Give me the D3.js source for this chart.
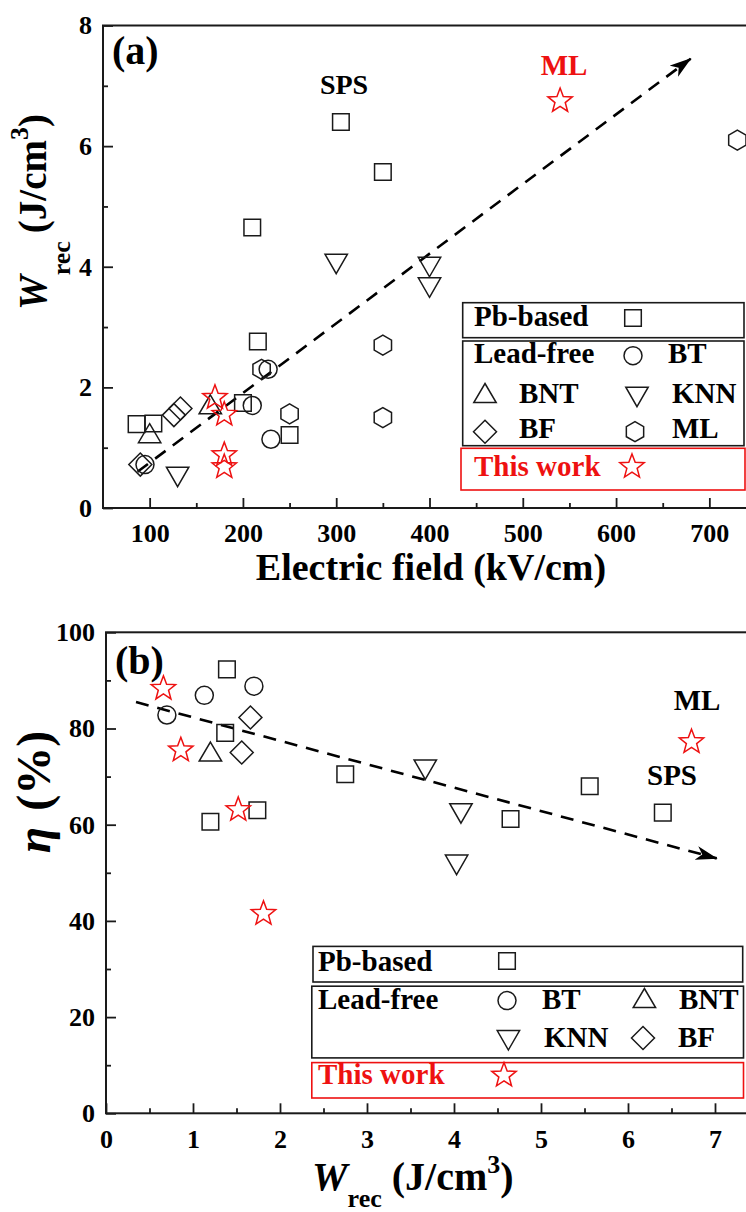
<!DOCTYPE html>
<html><head><meta charset="utf-8">
<script src="https://cdn.jsdelivr.net/npm/d3@7"></script>
<style>
html,body{margin:0;padding:0;background:#fff;overflow:hidden;}
svg{display:block;}
text{font-family:'Liberation Serif','Times New Roman',serif;font-weight:bold;}
</style></head>
<body>
<svg id="chart" width="746" height="1212"></svg>
<script>
// ---------- DATA: panel (a) Wrec vs Electric field ----------
const pbA  = [[86,1.39],[104,1.40],[200,1.74],[210,4.65],[216,2.76],[250,1.21],[305,6.40],[350,5.57]];
const btA  = [[95,0.72],[210,1.70],[227,2.30],[230,1.14]];
const bntA = [[100,1.24],[165,1.72]];
const knnA = [[130,0.52],[300,4.05],[400,4.00],[400,3.66]];
const bfA  = [[90,0.72],[126,1.54],[133,1.65]];
const mlA  = [[220,2.30],[250,1.56],[350,2.70],[350,1.50],[730,6.10]];
const starA = [[170,1.83],[180,1.55],[180,0.88],[180,0.68],[540,6.75]];
const trendA = [[87,0.60],[680,7.45]];
const xTicksA = [100,200,300,400,500,600,700];
const yTicksA = [0,2,4,6,8];

// ---------- DATA: panel (b) efficiency vs Wrec ----------
const pbB  = [[1.39,92.3],[1.37,79.1],[1.20,60.6],[1.74,63.0],[2.75,70.5],[4.65,61.2],[5.56,68.0],[6.40,62.5]];
const btB  = [[0.70,82.8],[1.13,86.9],[1.70,88.8]];
const bntB = [[1.20,75.2]];
const knnB = [[3.67,71.5],[4.08,62.4],[4.03,51.7]];
const bfB  = [[1.66,82.3],[1.56,75.0]];
const starB = [[0.66,88.3],[0.86,75.5],[1.52,63.1],[1.81,41.5],[6.73,77.2]];
const trendB = [[0.345,85.5],[7.02,53.0]];
const xTicksB = [0,1,2,3,4,5,6,7];
const yTicksB = [0,20,40,60,80,100];

const RED = "#ee1111", INK = "#1a1a1a";
const svg = d3.select("#chart");

// marker shapes
function shape(type){
  switch(type){
    case "square": return "M-8.3,-8.3h16.6v16.6h-16.6Z";
    case "circle": return "M9,0A9,9 0 1,1 -9,0A9,9 0 1,1 9,0Z";
    case "up": return "M0,-9.5L11.2,9.5L-11.2,9.5Z";
    case "down": return "M0,10L11.2,-9.5L-11.2,-9.5Z";
    case "diamond": return "M0,-11.5L11.5,0L0,11.5L-11.5,0Z";
    case "hex": {
      const p=[]; for(let k=0;k<6;k++){const a=(-90+60*k)*Math.PI/180; p.push([10*Math.cos(a),10*Math.sin(a)]);}
      return "M"+p.map(d=>d[0].toFixed(2)+","+d[1].toFixed(2)).join("L")+"Z";
    }
    case "star": {
      const p=[]; for(let k=0;k<10;k++){const r=k%2?5.4:12.8; const a=(-90+36*k)*Math.PI/180; p.push([r*Math.cos(a),r*Math.sin(a)]);}
      return "M"+p.map(d=>d[0].toFixed(2)+","+d[1].toFixed(2)).join("L")+"Z";
    }
  }
}
function drawSeries(g, data, type, x, y, color){
  g.selectAll(null).data(data).enter().append("path")
    .attr("d", shape(type))
    .attr("transform", d=>`translate(${x(d[0])},${y(d[1])})`)
    .attr("fill","none").attr("stroke", color||INK).attr("stroke-width",1.5);
}
function legendSym(g, type, cx, cy, color){
  g.append("path").attr("d",shape(type)).attr("transform",`translate(${cx},${cy})`)
   .attr("fill","none").attr("stroke",color||INK).attr("stroke-width",1.5);
}
function legendText(g, txt, x, y, color){
  g.append("text").attr("x",x).attr("y",y).attr("font-size",29).attr("fill",color||"#000").text(txt);
}

// arrowhead
svg.append("defs").append("marker").attr("id","arrow")
  .attr("viewBox","0 0 22 14").attr("refX",21).attr("refY",7)
  .attr("markerWidth",22).attr("markerHeight",14).attr("markerUnits","userSpaceOnUse")
  .attr("orient","auto")
  .append("path").attr("d","M0,0L22,7L0,14L6,7Z").attr("fill","#000");

function frameAndAxes(g, x, y, xt, yt, xMinor, yMinor){
  const [x0,x1]=x.range(), [y0,y1]=y.range();
  g.append("g").attr("transform",`translate(0,${y0})`)
    .call(d3.axisBottom(x).tickValues(xt).tickSize(-10).tickPadding(16).tickSizeOuter(0));
  g.append("g").attr("transform",`translate(0,${y0})`)
    .call(d3.axisBottom(x).tickValues(xMinor).tickSize(-5).tickFormat("").tickSizeOuter(0));
  g.append("g").attr("transform",`translate(${x0},0)`)
    .call(d3.axisLeft(y).tickValues(yt).tickSize(-10).tickPadding(11).tickSizeOuter(0));
  g.append("g").attr("transform",`translate(${x0},0)`)
    .call(d3.axisLeft(y).tickValues(yMinor).tickSize(-5).tickFormat("").tickSizeOuter(0));
  g.selectAll(".domain").remove();
  g.selectAll(".tick line").attr("stroke",INK).attr("stroke-width",1.8);
  g.selectAll(".tick text").attr("font-size",26).attr("fill","#000")
    .attr("font-family","'Liberation Serif','Times New Roman',serif").attr("font-weight","bold");
  g.append("rect").attr("x",x0).attr("y",y1).attr("width",x1-x0).attr("height",y0-y1)
    .attr("fill","none").attr("stroke",INK).attr("stroke-width",2);
}

// ================= PANEL (a) =================
const xA = d3.scaleLinear().domain([50,750]).range([103,756]);
const yA = d3.scaleLinear().domain([0,8]).range([508,25.5]);
const gA = svg.append("g");
frameAndAxes(gA, xA, yA, xTicksA, yTicksA, d3.range(150,751,100), [1,3,5,7]);

gA.append("line").attr("x1",xA(trendA[0][0])).attr("y1",yA(trendA[0][1]))
  .attr("x2",xA(trendA[1][0])).attr("y2",yA(trendA[1][1]))
  .attr("stroke","#000").attr("stroke-width",2.6).attr("stroke-dasharray","13,9")
  .attr("marker-end","url(#arrow)");

drawSeries(gA, pbA, "square", xA, yA);
drawSeries(gA, btA, "circle", xA, yA);
drawSeries(gA, bntA, "up", xA, yA);
drawSeries(gA, knnA, "down", xA, yA);
drawSeries(gA, bfA, "diamond", xA, yA);
drawSeries(gA, mlA, "hex", xA, yA);
drawSeries(gA, starA, "star", xA, yA, RED);

gA.append("text").attr("x",112).attr("y",64).attr("font-size",40).text("(a)");
gA.append("text").attr("x",344).attr("y",94).attr("text-anchor","middle").attr("font-size",28).text("SPS");
gA.append("text").attr("x",564).attr("y",75).attr("text-anchor","middle").attr("font-size",29).attr("fill",RED).text("ML");

// x title
gA.append("text").attr("x",431).attr("y",580).attr("text-anchor","middle").attr("font-size",38).text("Electric field (kV/cm)");
// y title
{
  const t = gA.append("text").attr("transform","translate(46,212) rotate(-90)").attr("text-anchor","middle").attr("font-size",39);
  t.append("tspan").attr("font-style","italic").text("W");
  t.append("tspan").attr("font-size",26).attr("dy",24).text("rec");
  t.append("tspan").attr("dy",-24).attr("dx",8).text("(J/cm");
  t.append("tspan").attr("font-size",26).attr("dy",-18).text("3");
  t.append("tspan").attr("dy",18).text(")");
}
// legend (a)
{
  const L = gA.append("g");
  L.append("rect").attr("x",462.7).attr("y",302.7).attr("width",281.3).attr("height",35).attr("fill","none").attr("stroke",INK).attr("stroke-width",1.6);
  L.append("rect").attr("x",462.7).attr("y",341).attr("width",281.3).attr("height",104.7).attr("fill","none").attr("stroke",INK).attr("stroke-width",1.6);
  L.append("rect").attr("x",461).attr("y",448.3).attr("width",284).attr("height",41.7).attr("fill","none").attr("stroke",RED).attr("stroke-width",1.6);
  legendText(L,"Pb-based",474,326); legendSym(L,"square",633,318);
  legendText(L,"Lead-free",474,363); legendSym(L,"circle",633,355.7); legendText(L,"BT",668,363);
  legendSym(L,"up",485,393); legendText(L,"BNT",519,402.7); legendSym(L,"down",637,396.7); legendText(L,"KNN",672,402.7);
  legendSym(L,"diamond",485,431.7); legendText(L,"BF",519,438.3); legendSym(L,"hex",635,431.7); legendText(L,"ML",672,438.3);
  legendText(L,"This work",474,476,RED); legendSym(L,"star",632,466.7,RED);
}

// ================= PANEL (b) =================
const xB = d3.scaleLinear().domain([0,7.5]).range([106,758.5]);
const yB = d3.scaleLinear().domain([0,100]).range([1113.3,632.3]);
const gB = svg.append("g");
frameAndAxes(gB, xB, yB, xTicksB, yTicksB, d3.range(0.5,7.6,1), [10,30,50,70,90]);

gB.append("line").attr("x1",xB(trendB[0][0])).attr("y1",yB(trendB[0][1]))
  .attr("x2",xB(trendB[1][0])).attr("y2",yB(trendB[1][1]))
  .attr("stroke","#000").attr("stroke-width",2.6).attr("stroke-dasharray","13,9")
  .attr("marker-end","url(#arrow)");

drawSeries(gB, pbB, "square", xB, yB);
drawSeries(gB, btB, "circle", xB, yB);
drawSeries(gB, bntB, "up", xB, yB);
drawSeries(gB, knnB, "down", xB, yB);
drawSeries(gB, bfB, "diamond", xB, yB);
drawSeries(gB, starB, "star", xB, yB, RED);

gB.append("text").attr("x",115).attr("y",674).attr("font-size",40).text("(b)");
gB.append("text").attr("x",697).attr("y",710).attr("text-anchor","middle").attr("font-size",29).text("ML");
gB.append("text").attr("x",672).attr("y",785).attr("text-anchor","middle").attr("font-size",29).text("SPS");

// x title
{
  const t = gB.append("text").attr("x",312).attr("y",1190).attr("font-size",40);
  t.append("tspan").attr("font-style","italic").text("W");
  t.append("tspan").attr("font-size",26).attr("dy",17).text("rec");
  t.append("tspan").attr("dy",-17).attr("dx",10).text("(J/cm");
  t.append("tspan").attr("font-size",26).attr("dy",-17).text("3");
  t.append("tspan").attr("dy",17).text(")");
}
// y title
{
  const t = gB.append("text").attr("transform","translate(50,792) rotate(-90)").attr("text-anchor","middle").attr("font-size",48);
  t.append("tspan").attr("font-style","italic").text("η");
  t.append("tspan").attr("dx",16).text("(%)");
}
// legend (b)
{
  const L = gB.append("g");
  L.append("rect").attr("x",313).attr("y",946.4).attr("width",429.7).attr("height",35.6).attr("fill","none").attr("stroke",INK).attr("stroke-width",1.6);
  L.append("rect").attr("x",311.8).attr("y",986.2).attr("width",431.7).attr("height",71.7).attr("fill","none").attr("stroke",INK).attr("stroke-width",1.6);
  L.append("rect").attr("x",311.8).attr("y",1062.6).attr("width",431.7).attr("height",35.4).attr("fill","none").attr("stroke",RED).attr("stroke-width",1.6);
  legendText(L,"Pb-based",318,971); legendSym(L,"square",507,961);
  legendText(L,"Lead-free",318,1008.7); legendSym(L,"circle",507,1000.6); legendText(L,"BT",542,1008.7);
  legendSym(L,"up",644.4,998); legendText(L,"BNT",679,1008.7);
  legendSym(L,"down",508.4,1040); legendText(L,"KNN",544,1046.8); legendSym(L,"diamond",643,1038); legendText(L,"BF",678,1046.8);
  legendText(L,"This work",318,1083.8,RED); legendSym(L,"star",504,1075.4,RED);
}
</script>
</body></html>
